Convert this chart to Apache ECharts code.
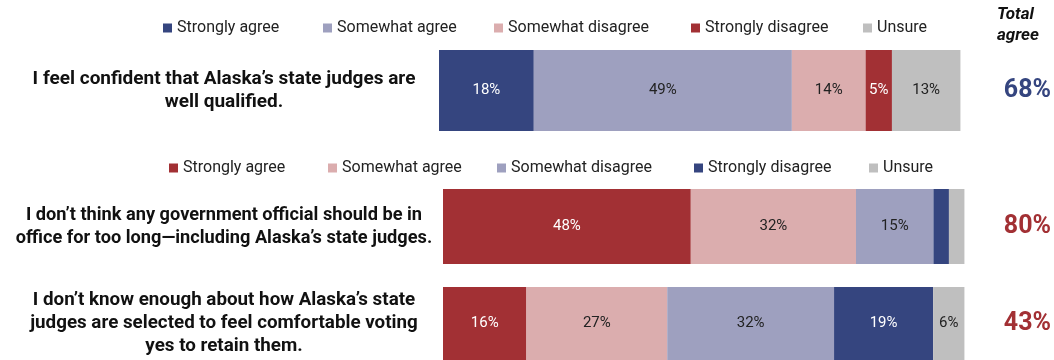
<!DOCTYPE html>
<html><head><meta charset="utf-8">
<script src="https://cdn.jsdelivr.net/npm/echarts@6/dist/echarts.min.js"></script>
<style>html,body{margin:0;padding:0;background:#fff}#chart{width:1054px;height:360px}</style>
</head><body><div id="chart"></div>
<script>
// Survey statements and answer shares (percent)
const questions = [
  "I feel confident that Alaska’s state judges are\nwell qualified.",
  "I don’t think any government official should be in\noffice for too long—including Alaska’s state judges.",
  "I don’t know enough about how Alaska’s state\njudges are selected to feel comfortable voting\nyes to retain them."
];
const responses = ["Strongly agree", "Somewhat agree", "Somewhat disagree", "Strongly disagree", "Unsure"];
const row1Values = [18, 49, 14, 5, 13];
const row2Values = [48, 32, 15, 3, 3];
const row3Values = [16, 27, 32, 19, 6];
const totalAgree = [68, 80, 43];
const totalHeader = "Total\nagree";

const BLUE = '#35457f', LAV = '#9ea0bf', PINK = '#dbadae', RED = '#a23034', GRAY = '#bfbfbf';
// first statement: agreement shown in blue; the other two: agreement shown in red
const colorsA = [BLUE, LAV, PINK, RED, GRAY];
const colorsB = [RED, PINK, LAV, BLUE, GRAY];
const FONT = 'Roboto';

const rows = [
  { values: row1Values, prefix: 'a|', colors: colorsA, grid: { left: 439, width: 522, top: 50, height: 81 }, totalColor: BLUE, qSize: 19 },
  { values: row2Values, prefix: 'b|', colors: colorsB, grid: { left: 443, width: 522, top: 189, height: 75 }, totalColor: RED, qSize: 18.2 },
  { values: row3Values, prefix: 'b|', colors: colorsB, grid: { left: 443, width: 522, top: 287, height: 76 }, totalColor: RED, qSize: 18.8 }
];
const labelCenterX = 224;
const totalCenterX = 1028;

const grids = [], xAxes = [], yAxes = [], series = [];
rows.forEach((r, g) => {
  grids.push(r.grid);
  const sum = r.values.reduce((a, b) => a + b, 0);
  xAxes.push({ type: 'value', gridIndex: g, min: 0, max: sum, show: false });
  yAxes.push({
    type: 'category', gridIndex: g, data: [questions[g]], position: 'left',
    axisLine: { show: false }, axisTick: { show: false },
    axisLabel: {
      align: 'center', margin: r.grid.left - labelCenterX,
      fontFamily: FONT, fontWeight: 'bold', fontSize: r.qSize, lineHeight: 23, color: '#111'
    }
  });
  yAxes.push({
    type: 'category', gridIndex: g, data: [totalAgree[g] + '%'], position: 'right',
    axisLine: { show: false }, axisTick: { show: false },
    axisLabel: {
      align: 'center', margin: totalCenterX - (r.grid.left + r.grid.width),
      fontFamily: FONT, fontWeight: 'bold', fontSize: 25, color: r.totalColor
    }
  });
  r.values.forEach((v, i) => {
    const dark = r.colors[i] === BLUE || r.colors[i] === RED;
    series.push({
      name: r.prefix + responses[i], type: 'bar', stack: 'row' + g,
      xAxisIndex: g, yAxisIndex: g * 2, barWidth: '100%', silent: true,
      data: [v], itemStyle: { color: r.colors[i] },
      label: {
        show: true, position: 'inside',
        formatter: p => (p.value >= 5 ? p.value + '%' : ''),
        color: dark ? '#ffffff' : '#222222', fontFamily: FONT, fontSize: 15
      }
    });
  });
});

// legend rows: one item per legend so each sits at its own x
const legendLeftA = [163, 323, 494, 691, 863];
const legendLeftB = [169, 328, 497, 694, 869];
const legends = [];
function addLegend(prefix, lefts, centerY) {
  responses.forEach((name, i) => {
    legends.push({
      data: [prefix + name], left: lefts[i], top: centerY - 9, padding: 0,
      icon: 'rect', itemWidth: 9, itemHeight: 9, selectedMode: false,
      formatter: n => n.split('|')[1],
      textStyle: { fontFamily: FONT, fontSize: 16, color: '#222' }
    });
  });
}
addLegend('a|', legendLeftA, 29);
addLegend('b|', legendLeftB, 169);

const chart = echarts.init(document.getElementById('chart'), null, { renderer: 'canvas' });
chart.setOption({
  animation: false,
  backgroundColor: '#ffffff',
  grid: grids, xAxis: xAxes, yAxis: yAxes, series: series, legend: legends,
  graphic: [{
    type: 'text', left: 1022 - 25, top: 4,
    style: {
      text: totalHeader, fontFamily: FONT, fontWeight: 'bold', fontStyle: 'italic',
      fontSize: 17, lineHeight: 21, fill: '#111', align: 'center', width: 50
    }
  }]
});
</script>
</body></html>
